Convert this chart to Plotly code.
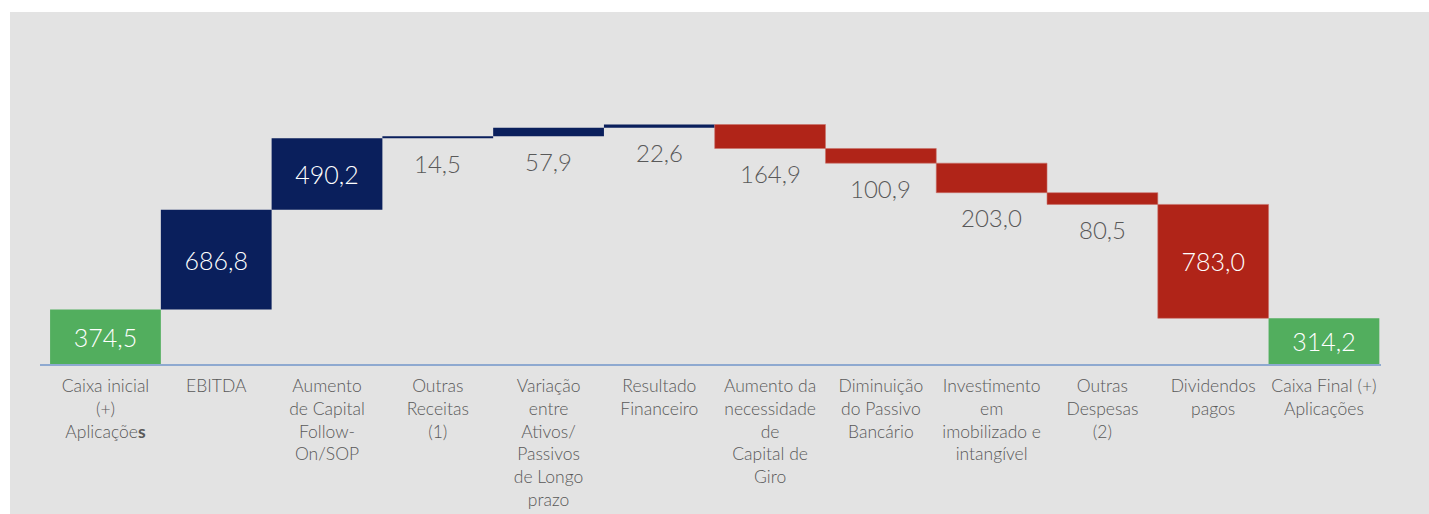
import plotly.graph_objects as go

categories = [
    "Caixa inicial<br>(+)<br>Aplicaçõe<b>s</b>",
    "EBITDA",
    "Aumento<br>de Capital<br>Follow-<br>On/SOP",
    "Outras<br>Receitas<br>(1)",
    "Variação<br>entre<br>Ativos/<br>Passivos<br>de Longo<br>prazo",
    "Resultado<br>Financeiro",
    "Aumento da<br>necessidade<br>de<br>Capital de<br>Giro",
    "Diminuição<br>do Passivo<br>Bancário",
    "Investimento<br>em<br>imobilizado e<br>intangível",
    "Outras<br>Despesas<br>(2)",
    "Dividendos<br>pagos",
    "Caixa Final (+)<br>Aplicações",
]
values = [374.5, 686.8, 490.2, 14.5, 57.9, 22.6, -164.9, -100.9, -203.0, -80.5, -783.0, 314.2]
measures = ["absolute"] + ["relative"] * 10 + ["total"]

GREEN = "#52ae5e"
NAVY = "#0a1f5c"
RED = "#b02418"
GREY_TXT = "#595959"
BG = "#e3e3e3"
FONT = "Lato"
WEIGHT = 300


def fmt(v):
    return f"{abs(v):.1f}".replace(".", ",")


INSIDE_MIN = 300
inside_text = [fmt(v) if abs(v) > INSIDE_MIN else "" for v in values]

fig = go.Figure()
fig.add_trace(go.Waterfall(
    x=list(range(len(categories))),
    y=values,
    measure=measures,
    text=inside_text,
    textposition="inside",
    insidetextanchor="middle",
    insidetextfont=dict(color="white", size=25, family=FONT, weight=WEIGHT),
    textfont=dict(color="white", size=25, family=FONT, weight=WEIGHT),
    constraintext="none",
    connector=dict(visible=False),
    increasing=dict(marker=dict(color=NAVY, line=dict(width=0))),
    decreasing=dict(marker=dict(color=RED, line=dict(color="#c9706a", width=0.6))),
    totals=dict(marker=dict(color=GREEN, line=dict(width=0))),
    hoverinfo="skip",
))

# outside labels below small bars (positions derived from running totals)
annotations = []
running = 0.0
for i, (v, m) in enumerate(zip(values, measures)):
    if m == "absolute":
        start, end = 0.0, v
        running = v
    elif m == "total":
        start, end = 0.0, running
    else:
        start, end = running, running + v
        running = end
    if abs(v) <= INSIDE_MIN:
        annotations.append(dict(
            x=i, y=min(start, end), xref="x", yref="y",
            text=fmt(v), showarrow=False, yanchor="middle", yshift=-25,
            font=dict(size=24, color=GREY_TXT, family=FONT, weight=WEIGHT),
        ))

W, H = 1429, 514
ML, MR, MT, MB = 40, 48, 12, 150
pw, ph = W - ML - MR, H - MT - MB

# white frame strips (top and left) over a grey paper
px = lambda p: (p - ML) / pw
py = lambda p: (H - MB - p) / ph

fig.update_layout(
    width=W, height=H, autosize=False,
    margin=dict(l=ML, r=MR, t=MT, b=MB, pad=0, autoexpand=False),
    paper_bgcolor=BG,
    plot_bgcolor="rgba(0,0,0,0)",
    showlegend=False,
    waterfallgap=0,
    font=dict(family=FONT, color=GREY_TXT, weight=WEIGHT),
    annotations=annotations,
    shapes=[
        dict(type="rect", xref="paper", yref="paper",
             x0=px(-5), x1=px(W + 5), y0=py(12), y1=py(-5),
             fillcolor="white", line=dict(width=0), layer="below"),
        dict(type="rect", xref="paper", yref="paper",
             x0=px(-5), x1=px(10), y0=py(H + 5), y1=py(-5),
             fillcolor="white", line=dict(width=0), layer="below"),
    ],
    xaxis=dict(
        range=[-0.591, 11.515],
        automargin=False,
        tickmode="array",
        tickvals=list(range(len(categories))),
        ticktext=categories,
        tickangle=0,
        tickfont=dict(size=17.5, color=GREY_TXT, family=FONT, weight=WEIGHT),
        ticklabelstandoff=5,
        showgrid=False, zeroline=False,
        showline=True, linecolor="#8ea9d0", linewidth=2,
        ticks="", ticklen=0,
    ),
    yaxis=dict(
        range=[0, 2420],
        automargin=False,
        visible=False, showgrid=False, zeroline=False,
    ),
)

fig.write_html(
    "out.html",
    config={"displayModeBar": False, "staticPlot": True},
    post_script="document.documentElement.style.margin='0';document.body.style.margin='0';document.body.style.overflow='hidden';",
)
